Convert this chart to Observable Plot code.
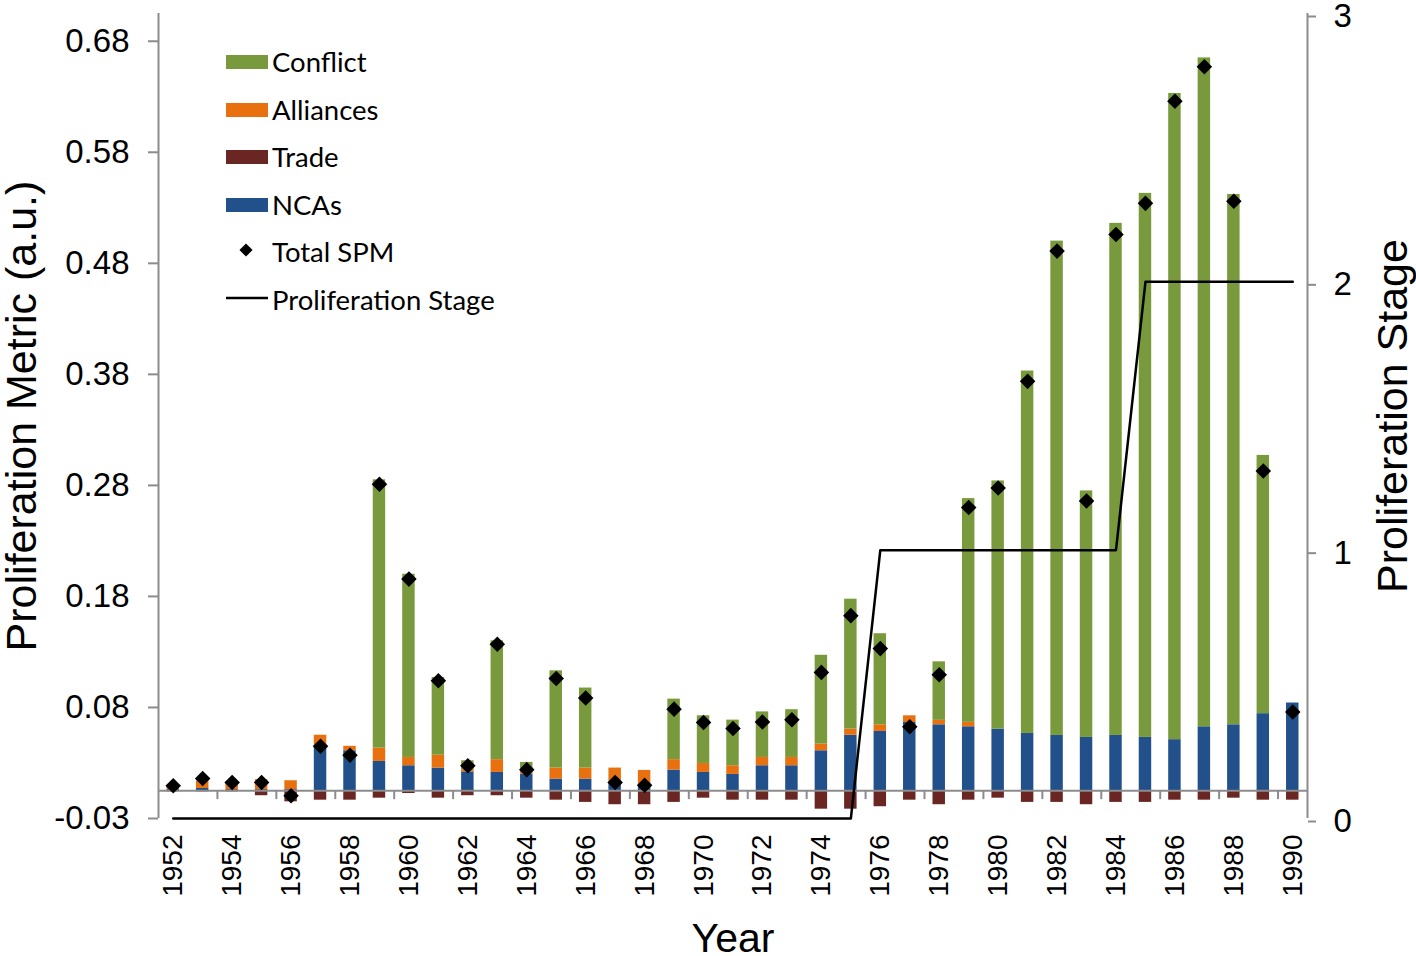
<!DOCTYPE html>
<html><head><meta charset="utf-8">
<script src="https://cdn.jsdelivr.net/npm/d3@7"></script>
<script src="https://cdn.jsdelivr.net/npm/@observablehq/plot@0.6"></script>
<style>
body{margin:0;background:#fff;}
#chart{position:relative;width:1416px;height:956px;}
</style>
</head><body><div id="chart"></div>
<script>
const years = [1952,1953,1954,1955,1956,1957,1958,1959,1960,1961,1962,1963,1964,1965,1966,1967,1968,1969,1970,1971,1972,1973,1974,1975,1976,1977,1978,1979,1980,1981,1982,1983,1984,1985,1986,1987,1988,1989,1990];
const ncas = [0.001,0.002,0.001,0.001,0.001,0.0405,0.036,0.0264,0.0225,0.0204,0.017,0.0165,0.015,0.0105,0.0105,0.008,0.006,0.0186,0.0165,0.0147,0.0225,0.0225,0.036,0.050,0.0534,0.0615,0.0594,0.0576,0.0555,0.0516,0.0498,0.048,0.0498,0.048,0.046,0.0576,0.0594,0.0694,0.079];
const alliances = [0.003,0.007,0.006,0.009,0.008,0.0095,0.004,0.012,0.0075,0.0116,0.002,0.0115,0.0045,0.0099,0.0099,0.0124,0.0123,0.0094,0.0081,0.0078,0.0075,0.0075,0.006,0.0055,0.006,0.006,0.004,0.004,0,0,0,0,0,0,0,0,0,0,0];
const conflict = [0.001,0.002,0.001,0,0,0,0,0.2416,0.165,0.070,0.008,0.107,0.006,0.0876,0.0721,0,0,0.0545,0.0429,0.0411,0.041,0.043,0.080,0.117,0.082,0,0.0527,0.2015,0.2235,0.3264,0.4452,0.222,0.4612,0.490,0.582,0.6024,0.4776,0.2326,0];
const trade = [-0.001,-0.001,-0.001,-0.0045,-0.01,-0.0085,-0.0085,-0.0067,-0.0025,-0.0067,-0.0045,-0.0045,-0.0067,-0.0085,-0.0105,-0.0126,-0.0126,-0.0105,-0.0067,-0.0085,-0.0085,-0.0085,-0.0166,-0.0166,-0.0144,-0.0085,-0.0126,-0.0085,-0.0067,-0.0105,-0.0105,-0.0126,-0.0105,-0.0105,-0.0085,-0.0085,-0.0067,-0.0085,-0.0085];
const totalSPM = [0.0045,0.011,0.0075,0.0075,-0.0045,0.040,0.032,0.276,0.1906,0.099,0.0225,0.132,0.019,0.101,0.0835,0.0075,0.005,0.0735,0.0615,0.056,0.062,0.064,0.1066,0.1577,0.128,0.0576,0.1045,0.255,0.2726,0.3687,0.486,0.261,0.501,0.529,0.621,0.652,0.531,0.288,0.071];
const stage = [0,0,0,0,0,0,0,0,0,0,0,0,0,0,0,0,0,0,0,0,0,0,0,0,1,1,1,1,1,1,1,1,1,2,2,2,2,2,2];

const seriesNames = ["NCAs","Alliances","Conflict","Trade"];
const seriesColors = ["#22508a","#e8700f","#789a3c","#6a2622"];
const legendItems = ["Conflict","Alliances","Trade","NCAs","Total SPM","Proliferation Stage"];

const leftTickValues = [-0.025,0.075,0.175,0.275,0.375,0.475,0.575,0.675];
const leftTickLabels = ["-0.03","0.08","0.18","0.28","0.38","0.48","0.58","0.68"];
const stageTicks = [0,1,2,3];
const stageTickLabels = ["0","1","2","3"];
const xTickYears = years.filter(y => y % 2 === 0);
const boundaryTicks = years.filter(y => y % 2 === 1).map(y => y + 0.5);

const yDomain = [-0.025, 0.70];
const stageDomain = [0, 3];
const stageToY = s => yDomain[0] + (s - stageDomain[0]) * (yDomain[1] - yDomain[0]) / (stageDomain[1] - stageDomain[0]);

const valuesBySeries = {NCAs: ncas, Alliances: alliances, Conflict: conflict, Trade: trade};
const rows = years.flatMap((yr, i) => seriesNames.map(s => ({year: yr, series: s, value: valuesBySeries[s][i]})));
const totalRows = years.map((yr, i) => ({year: yr, total: totalSPM[i]}));
const stageRows = years.map((yr, i) => ({year: yr, stage: stage[i]}));
const rightTickMap = new Map(stageTicks.map((s, i) => [stageToY(s), stageTickLabels[i]]));
const leftTickMap = new Map(leftTickValues.map((v, i) => [v, leftTickLabels[i]]));

const plot = Plot.plot({
  width: 1416, height: 956,
  marginLeft: 158, marginRight: 109, marginTop: 13, marginBottom: 138,
  style: {fontFamily: "Liberation Sans, Arial, sans-serif", background: "white", color: "black"},
  x: {type: "linear", domain: [1951.5, 1990.5], axis: null},
  y: {domain: yDomain, axis: null},
  color: {domain: seriesNames, range: seriesColors},
  marks: [
    Plot.rectY(rows, Plot.stackY({
      x1: d => d.year - 0.5, x2: d => d.year + 0.5, y: "value", fill: "series",
      order: seriesNames, insetLeft: 8.5, insetRight: 8.5
    })),
    Plot.ruleY([0], {stroke: "#8c8c8c", strokeWidth: 2}),
    Plot.ruleX(boundaryTicks, {y1: 0, y2: -0.008, stroke: "#8c8c8c", strokeWidth: 2}),
    Plot.ruleX([1951.5, 1990.5], {stroke: "#8c8c8c", strokeWidth: 2}),
    Plot.line(stageRows, {x: "year", y: d => stageToY(d.stage), stroke: "black", strokeWidth: 2.5}),
    Plot.dot(totalRows, {x: "year", y: "total", symbol: "diamond2", r: 7, fill: "black", stroke: "none"}),
    Plot.axisY(leftTickValues, {anchor: "left", tickSize: 10, tickPadding: 19, fontSize: 33, stroke: "#8c8c8c", strokeWidth: 2, fill: "black", tickFormat: d => leftTickMap.get(d), label: null}),
    Plot.axisY(stageTicks.map(stageToY), {anchor: "right", tickSize: 8, tickPadding: 18, fontSize: 33, stroke: "#8c8c8c", strokeWidth: 2, fill: "black", tickFormat: d => rightTickMap.get(d), label: null, dy: 3}),
    Plot.axisX(xTickYears, {anchor: "bottom", tickSize: 0, tickPadding: 16, tickRotate: -90, fontSize: 28, fill: "black", tickFormat: d => String(d), label: null}),
    Plot.text(["Proliferation Metric (a.u.)"], {frameAnchor: "left", dx: -136, rotate: -90, fontSize: 43, fill: "black", textAnchor: "middle", lineAnchor: "middle"}),
    Plot.text(["Proliferation Stage"], {frameAnchor: "right", dx: 86, rotate: -90, fontSize: 43, fill: "black", textAnchor: "middle", lineAnchor: "middle"}),
    Plot.text(["Year"], {frameAnchor: "bottom", dy: 120, fontSize: 41, fill: "black", textAnchor: "middle", lineAnchor: "middle"})
  ]
});
document.getElementById("chart").appendChild(plot);

// Legend
const svg = d3.select(plot);
const lg = svg.append("g").attr("font-family", "Lato, 'Open Sans', sans-serif").attr("font-size", 27.5).attr("text-anchor", "start");
const rowY = [62, 110, 157, 205, 252, 300];
const swatchColor = {Conflict: seriesColors[2], Alliances: seriesColors[1], Trade: seriesColors[3], NCAs: seriesColors[0]};
legendItems.forEach((name, i) => {
  const cy = rowY[i];
  if (swatchColor[name]) {
    lg.append("rect").attr("x", 226).attr("y", cy - 7).attr("width", 42).attr("height", 14).attr("fill", swatchColor[name]);
  } else if (name === "Total SPM") {
    lg.append("path").attr("d", d3.symbol(d3.symbolDiamond2, 110)()).attr("transform", `translate(246,${cy - 2})`).attr("fill", "black");
  } else {
    lg.append("line").attr("x1", 226).attr("x2", 268).attr("y1", cy - 2).attr("y2", cy - 2).attr("stroke", "black").attr("stroke-width", 2.5);
  }
  lg.append("text").attr("x", 272).attr("y", cy).attr("dy", "0.35em").attr("text-anchor", "start").attr("fill", "black").text(name);
});
</script>
</body></html>
